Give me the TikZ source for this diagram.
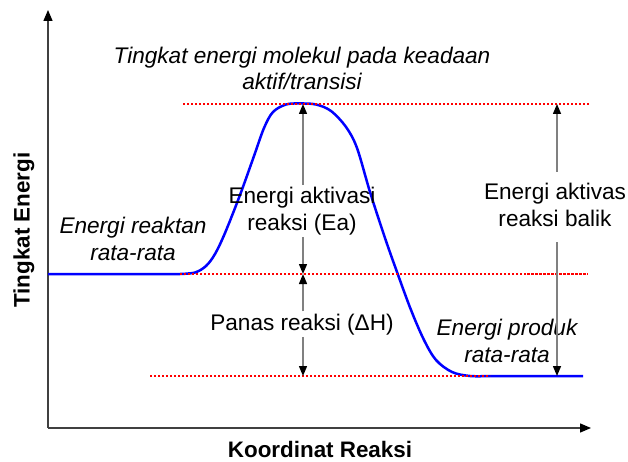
\documentclass[tikz,border=0pt]{standalone}
\usepackage{fontspec}
\setmainfont{Liberation Sans}
\usetikzlibrary{arrows.meta}
\begin{document}
\begin{tikzpicture}[x=1pt,y=-1pt,
  lbl/.style={font=\fontsize{22.6}{26.5}\selectfont,align=center,inner sep=2pt},
  ilbl/.style={lbl,font=\fontsize{22.6}{26.5}\selectfont\itshape},
  axlbl/.style={font=\fontsize{22.4}{26}\selectfont\bfseries,inner sep=0pt},
  axisline/.style={line width=1.3pt,draw=black!75,-{Triangle[length=11pt,width=9pt,color=black]}},
  arr/.style={line width=1.4pt,draw=black!50,-{Triangle[length=10pt,width=8pt,color=black]}},
  lvl/.style={red,line width=1.2pt,dash pattern=on 2pt off 2pt},
  lvldense/.style={red,line width=1.2pt,dash pattern=on 3pt off 1pt},
  curve/.style={blue,line width=2.5pt,line join=round}]
\useasboundingbox (0,0) rectangle (628,462);
% axes
\coordinate (O) at (48,428);
\coordinate (ytip) at (48,10);
\coordinate (xtip) at (591,428);
\draw[axisline] (O) -- (ytip);
\draw[axisline] (O) -- (xtip);
% energy profile
\draw[curve] (48,274) -- (180,274)
  plot[smooth,tension=0.55] coordinates {(180,274) (195,272.5) (206,266) (215,254) (225,233) (240,195) (254,156) (264,128) (273,112) (286,104.5) (300,103.5) (316,104.5) (331,111) (346,127) (357,148) (370,192) (385,238) (397,272) (411,310) (424,340) (436,360) (452,372) (470,376) (490,376)}
  -- (583,376);
% level lines
\coordinate (tl) at (183,104); \coordinate (tr) at (590,104);
\coordinate (ml) at (180,274); \coordinate (mm) at (527,274); \coordinate (mr) at (588,274);
\coordinate (bl) at (150,376); \coordinate (br) at (490,376);
\draw[lvl] (tl) -- (tr);
\draw[lvl] (ml) -- (mm);
\draw[lvldense] (mm) -- (mr);
\draw[lvl] (bl) -- (br);
% labels (base anchor = baseline of last line)
\node[ilbl,anchor=base] (ts) at (302,90) {Tingkat energi molekul pada keadaan\\aktif/transisi};
\node[ilbl,anchor=base] (react) at (133,260) {Energi reaktan\\rata-rata};
\node[ilbl,anchor=base] (prod) at (507,362) {Energi produk\\rata-rata};
\node[lbl,anchor=base] (ea) at (302,230) {Energi aktivasi\\reaksi (Ea)};
\node[lbl,anchor=base] (dh) at (302,330) {Panas reaksi (ΔH)};
\node[lbl,anchor=base] (rev) at (555,226) {Energi aktivas\\reaksi balik};
\node[axlbl,rotate=90] (ylab) at (24,230) {Tingkat Energi};
\node[axlbl] (xlab) at (320,449) {Koordinat Reaksi};
% arrows
\coordinate (eaT) at (303,104); \coordinate (eaB) at (303,274);
\coordinate (dhT) at (303,274); \coordinate (dhB) at (303,376);
\coordinate (rv1) at (557,172); \coordinate (rv2) at (557,242);
\coordinate (rvT) at (557,104); \coordinate (rvB) at (557,376);
\draw[arr] (ea.north -| eaT) -- (eaT);
\draw[arr] (ea.south -| eaB) -- (eaB);
\draw[arr] (dh.north -| dhT) -- (dhT);
\draw[arr] (dh.south -| dhB) -- (dhB);
\draw[arr] (rv1) -- (rvT);
\draw[arr] (rv2) -- (rvB);
\end{tikzpicture}
\end{document}
